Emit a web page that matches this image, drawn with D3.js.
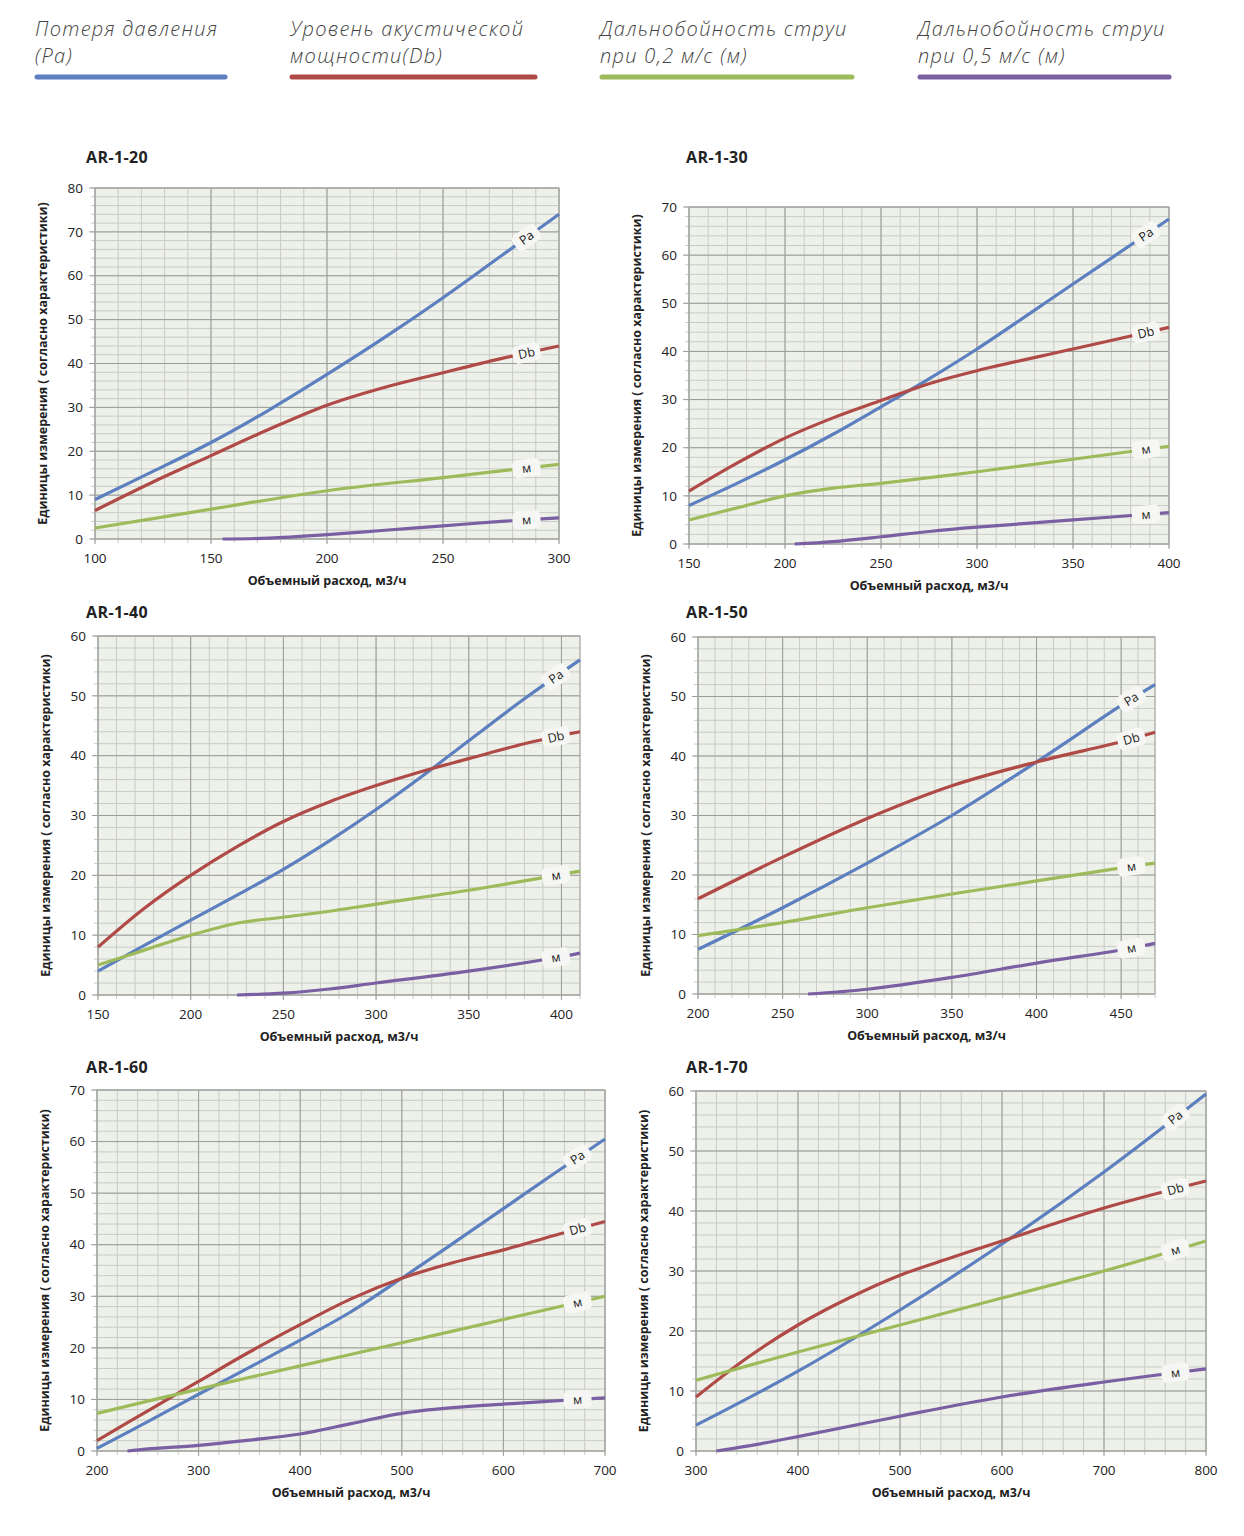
<!DOCTYPE html>
<html>
<head>
<meta charset="utf-8">
<script src="https://cdn.jsdelivr.net/npm/d3@7"></script>
<style>
body { margin: 0; background: #fff; }
</style>
</head>
<body>
<svg id="page" width="1244" height="1536"></svg>
<script>
// legend
var legendLabels = [
    ["Потеря давления", "(Pa)"],
    ["Уровень акустической", "мощности(Db)"],
    ["Дальнобойность струи", "при 0,2 м/с (м)"],
    ["Дальнобойность струи", "при 0,5 м/с (м)"]
];
var seriesColors = ["#5b7fbf", "#b04a47", "#9dbb5a", "#7a60a2"];
var lineTags = ["Pa", "Db", "м", "м"];
var chartNames = ["AR-1-20", "AR-1-30", "AR-1-40", "AR-1-50", "AR-1-60", "AR-1-70"];
var xAxisTitle = "Объемный расход, м3/ч";
var yAxisTitle = "Единицы измерения ( согласно характеристики)";

// axes: [min, max, major step, minor step]
var xDomains = [[100, 300, 50, 10], [150, 400, 50, 10], [150, 410, 50, 10], [200, 470, 50, 10], [200, 700, 100, 20], [300, 800, 100, 20]];
var yDomains = [[0, 80, 10, 2], [0, 70, 10, 2], [0, 60, 10, 2], [0, 60, 10, 2], [0, 70, 10, 2], [0, 60, 10, 2]];
// x value where the tag sits on each line
var tagAt = [286, 388, 397, 456, 673, 770];

// series, [flow, value]
var ar20Pa = [[100, 9], [125, 15.4], [150, 22], [175, 29.4], [200, 37.5], [225, 46], [250, 55], [275, 64.5], [300, 74]];
var ar20Db = [[100, 6.5], [125, 13], [150, 19], [175, 25], [200, 30.5], [225, 34.6], [250, 37.9], [275, 41.1], [300, 44]];
var ar20M2 = [[100, 2.5], [150, 6.8], [200, 11], [250, 14], [300, 17]];
var ar20M5 = [[155, 0], [175, 0.2], [200, 1], [225, 2], [250, 3], [275, 4], [300, 4.8]];

var ar30Pa = [[150, 8], [175, 12.6], [200, 17.5], [225, 22.8], [250, 28.5], [275, 34.3], [300, 40.5], [350, 54], [400, 67.5]];
var ar30Db = [[150, 11], [175, 16.8], [200, 22], [225, 26.2], [250, 29.8], [275, 33.3], [300, 36], [350, 40.5], [400, 45]];
var ar30M2 = [[150, 5], [175, 7.5], [200, 10], [225, 11.6], [250, 12.6], [300, 15], [350, 17.6], [400, 20.3]];
var ar30M5 = [[205, 0], [225, 0.5], [250, 1.5], [275, 2.6], [300, 3.5], [350, 5], [400, 6.5]];

var ar40Pa = [[150, 4], [175, 8.3], [200, 12.5], [225, 16.7], [250, 21], [275, 25.8], [300, 31], [325, 36.6], [350, 42.5], [380, 49.5], [410, 56]];
var ar40Db = [[150, 8], [175, 14.5], [200, 20], [225, 24.8], [250, 29], [275, 32.3], [300, 35], [325, 37.4], [350, 39.5], [380, 42], [410, 44]];
var ar40M2 = [[150, 5], [175, 7.5], [200, 10], [225, 12], [250, 13], [275, 14], [300, 15.2], [350, 17.5], [410, 20.7]];
var ar40M5 = [[225, 0], [250, 0.3], [275, 1], [300, 2], [350, 4], [400, 6.4], [410, 7]];

var ar50Pa = [[200, 7.5], [250, 14.5], [300, 22], [350, 30], [400, 39], [450, 48.5], [470, 52]];
var ar50Db = [[200, 16], [250, 23], [300, 29.5], [350, 35], [400, 39], [450, 42.4], [470, 44]];
var ar50M2 = [[200, 9.8], [250, 12], [300, 14.5], [350, 16.8], [400, 19], [450, 21.2], [470, 22]];
var ar50M5 = [[265, 0], [300, 0.8], [350, 2.8], [400, 5.2], [450, 7.4], [470, 8.5]];

var ar60Pa = [[200, 0.5], [250, 5.7], [300, 11], [350, 16.2], [400, 21.5], [450, 27], [500, 33.5], [550, 40.2], [600, 47], [650, 53.8], [700, 60.5]];
var ar60Db = [[200, 2], [250, 7.8], [300, 13.5], [350, 19.2], [400, 24.5], [450, 29.5], [500, 33.5], [550, 36.5], [600, 39], [650, 41.8], [700, 44.5]];
var ar60M2 = [[200, 7.3], [300, 12], [400, 16.5], [500, 21], [600, 25.5], [700, 30]];
var ar60M5 = [[230, 0], [250, 0.4], [300, 1.1], [350, 2.1], [400, 3.3], [450, 5.3], [500, 7.3], [550, 8.4], [600, 9.1], [650, 9.7], [700, 10.3]];

var ar70Pa = [[300, 4.3], [400, 13.3], [500, 23.5], [600, 34.5], [700, 46.5], [800, 59.5]];
var ar70Db = [[300, 9], [350, 15.5], [400, 21], [450, 25.5], [500, 29.3], [550, 32.2], [600, 35], [700, 40.5], [800, 45]];
var ar70M2 = [[300, 11.8], [400, 16.5], [500, 21], [600, 25.5], [700, 30], [800, 35]];
var ar70M5 = [[320, 0], [350, 0.8], [400, 2.4], [500, 5.8], [600, 9], [700, 11.5], [800, 13.7]];

var chartSeries = [
    [ar20Pa, ar20Db, ar20M2, ar20M5],
    [ar30Pa, ar30Db, ar30M2, ar30M5],
    [ar40Pa, ar40Db, ar40M2, ar40M5],
    [ar50Pa, ar50Db, ar50M2, ar50M5],
    [ar60Pa, ar60Db, ar60M2, ar60M5],
    [ar70Pa, ar70Db, ar70M2, ar70M5]
];

// plot boxes on the page: left, right, top, bottom, title x / baseline
var boxes = [
    {l: 95, r: 559, t: 188, b: 539, tx: 86, ty: 163},
    {l: 689, r: 1169, t: 207, b: 544, tx: 686, ty: 163},
    {l: 98, r: 580, t: 636, b: 995, tx: 86, ty: 618},
    {l: 698, r: 1155, t: 637, b: 994, tx: 686, ty: 618},
    {l: 97, r: 605, t: 1090, b: 1451, tx: 86, ty: 1073},
    {l: 696, r: 1206, t: 1091, b: 1451, tx: 686, ty: 1073}
];

var svg = d3.select("#page");
var plotBg = "#eef1ea";

// legend at the top
var legendX = [35, 290, 600, 918];
var legendW = [192, 247, 254, 253];
legendLabels.forEach(function (lines, i) {
    var g = svg.append("g").attr("transform", "translate(" + legendX[i] + ",0)");
    lines.forEach(function (t, k) {
        g.append("text")
            .attr("x", 0)
            .attr("y", 36 + k * 27)
            .attr("font-family", "'Open Sans', Lato, sans-serif")
            .attr("font-style", "italic")
            .attr("font-weight", 300)
            .attr("font-size", 20)
            .attr("letter-spacing", 1.3)
            .attr("fill", "#444")
            .text(t);
    });
    g.append("line")
        .attr("x1", 2).attr("x2", legendW[i] - 2)
        .attr("y1", 77).attr("y2", 77)
        .attr("stroke", seriesColors[i])
        .attr("stroke-width", 5)
        .attr("stroke-linecap", "round");
});

function valueAt(data, x) {
    for (var i = 1; i < data.length; i++) {
        if (x <= data[i][0]) {
            var a = data[i - 1], b = data[i];
            return a[1] + (b[1] - a[1]) * (x - a[0]) / (b[0] - a[0]);
        }
    }
    return data[data.length - 1][1];
}

chartNames.forEach(function (name, ci) {
    var box = boxes[ci];
    var xd = xDomains[ci], yd = yDomains[ci];
    var x = d3.scaleLinear().domain([xd[0], xd[1]]).range([box.l, box.r]);
    var y = d3.scaleLinear().domain([yd[0], yd[1]]).range([box.b, box.t]);
    var g = svg.append("g").attr("class", "chart");

    g.append("text")
        .attr("x", box.tx)
        .attr("y", box.ty)
        .attr("font-family", "'Open Sans', sans-serif")
        .attr("font-weight", 700)
        .attr("font-size", 16)
        .attr("letter-spacing", 0.4)
        .attr("fill", "#222")
        .text(name);

    g.append("rect")
        .attr("x", box.l).attr("y", box.t)
        .attr("width", box.r - box.l).attr("height", box.b - box.t)
        .attr("fill", plotBg);

    var minorX = d3.range(xd[0], xd[1] + 0.001, xd[3]);
    var minorY = d3.range(yd[0], yd[1] + 0.001, yd[3]);
    var majorX = d3.range(xd[0], xd[1] + 0.001, xd[2]);
    var majorY = d3.range(yd[0], yd[1] + 0.001, yd[2]);

    g.append("g").selectAll("line").data(minorX).enter().append("line")
        .attr("x1", function (d) { return x(d); }).attr("x2", function (d) { return x(d); })
        .attr("y1", box.t).attr("y2", box.b + 4)
        .attr("stroke", "#c9cbc6").attr("stroke-width", 1);
    g.append("g").selectAll("line").data(minorY).enter().append("line")
        .attr("x1", box.l - 4).attr("x2", box.r)
        .attr("y1", function (d) { return y(d); }).attr("y2", function (d) { return y(d); })
        .attr("stroke", "#c9cbc6").attr("stroke-width", 1);
    g.append("g").selectAll("line").data(majorX).enter().append("line")
        .attr("x1", function (d) { return x(d); }).attr("x2", function (d) { return x(d); })
        .attr("y1", box.t).attr("y2", box.b + 5)
        .attr("stroke", "#9a9c98").attr("stroke-width", 1);
    g.append("g").selectAll("line").data(majorY).enter().append("line")
        .attr("x1", box.l - 6).attr("x2", box.r)
        .attr("y1", function (d) { return y(d); }).attr("y2", function (d) { return y(d); })
        .attr("stroke", "#9a9c98").attr("stroke-width", 1);
    g.append("rect")
        .attr("x", box.l).attr("y", box.t)
        .attr("width", box.r - box.l).attr("height", box.b - box.t)
        .attr("fill", "none").attr("stroke", "#a4a6a2");

    // tick labels
    g.append("g").selectAll("text").data(majorX).enter().append("text")
        .attr("x", function (d) { return x(d); })
        .attr("y", box.b + 24)
        .attr("text-anchor", "middle")
        .attr("font-family", "'Open Sans', sans-serif")
        .attr("font-size", 13.5)
        .attr("fill", "#222")
        .text(function (d) { return d; });
    g.append("g").selectAll("text").data(majorY).enter().append("text")
        .attr("x", box.l - 12)
        .attr("y", function (d) { return y(d); })
        .attr("dy", "0.35em")
        .attr("text-anchor", "end")
        .attr("font-family", "'Open Sans', sans-serif")
        .attr("font-size", 13.5)
        .attr("fill", "#222")
        .text(function (d) { return d; });

    g.append("text")
        .attr("x", (box.l + box.r) / 2)
        .attr("y", box.b + 46)
        .attr("text-anchor", "middle")
        .attr("font-family", "'Open Sans', sans-serif")
        .attr("font-weight", 700)
        .attr("font-size", 12.5)
        .attr("fill", "#222")
        .text(xAxisTitle);
    var yc = (box.t + box.b) / 2;
    g.append("text")
        .attr("transform", "translate(" + (box.l - 52) + "," + yc + ") rotate(-90)")
        .attr("text-anchor", "middle")
        .attr("dy", "0.35em")
        .attr("font-family", "'Open Sans', sans-serif")
        .attr("font-weight", 700)
        .attr("font-size", 12.5)
        .attr("fill", "#222")
        .text(yAxisTitle);

    var line = d3.line()
        .x(function (d) { return x(d[0]); })
        .y(function (d) { return y(d[1]); })
        .curve(d3.curveCatmullRom);

    chartSeries[ci].forEach(function (data, si) {
        g.append("path")
            .attr("d", line(data))
            .attr("fill", "none")
            .attr("stroke", seriesColors[si])
            .attr("stroke-width", 3.2);
    });

    // tags sitting on the lines
    chartSeries[ci].forEach(function (data, si) {
        var tx = tagAt[ci];
        var d0 = xd[3] / 2;
        var p0 = [x(tx - d0), y(valueAt(data, tx - d0))];
        var p1 = [x(tx + d0), y(valueAt(data, tx + d0))];
        var ang = Math.atan2(p1[1] - p0[1], p1[0] - p0[0]) * 180 / Math.PI;
        var tg = g.append("g")
            .attr("transform", "translate(" + x(tx) + "," + y(valueAt(data, tx)) + ") rotate(" + ang + ")");
        tg.append("rect")
            .attr("x", -14).attr("y", -9)
            .attr("width", 28).attr("height", 18)
            .attr("rx", 5)
            .attr("fill", "#f6f7f4");
        tg.append("text")
            .attr("text-anchor", "middle")
            .attr("dy", "0.35em")
            .attr("font-family", "'Open Sans', sans-serif")
            .attr("font-size", 12.5)
            .attr("fill", "#222")
            .text(lineTags[si]);
    });
});
</script>
</body>
</html>
